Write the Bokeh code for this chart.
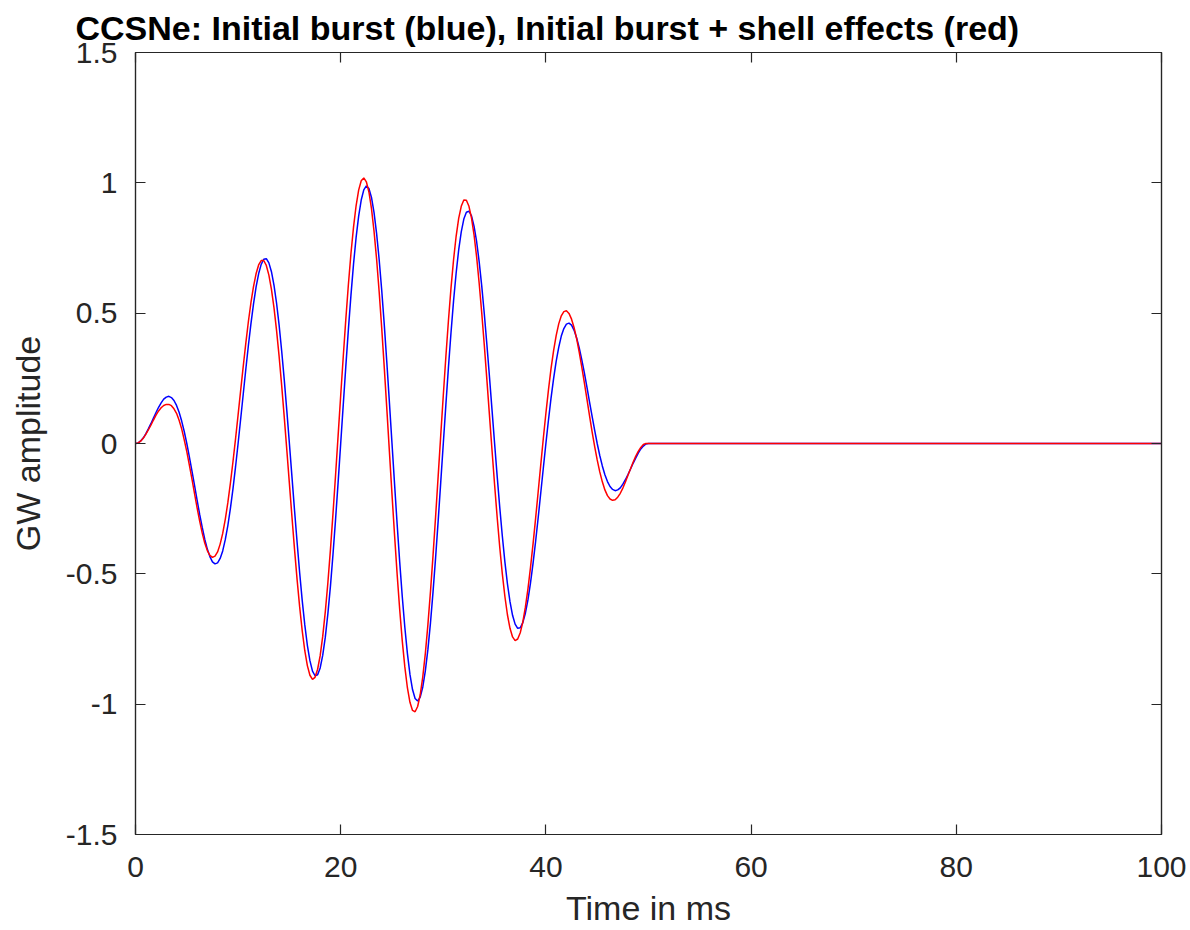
from bokeh.plotting import figure
from bokeh.models import LinearAxis, FixedTicker, Range1d, ColumnDataSource
from bokeh.embed import file_html
from bokeh.resources import INLINE

# ---- data ----
time_ms = [0, 0.25, 0.5, 0.75, 1, 1.25, 1.5, 1.75, 2, 2.25, 2.5, 2.75, 3, 3.25, 3.5, 3.75, 4, 4.25, 4.5, 4.75,
           5, 5.25, 5.5, 5.75, 6, 6.25, 6.5, 6.75, 7, 7.25, 7.5, 7.75, 8, 8.25, 8.5, 8.75, 9, 9.25, 9.5, 9.75,
           10, 10.25, 10.5, 10.75, 11, 11.25, 11.5, 11.75, 12, 12.25, 12.5, 12.75, 13, 13.25, 13.5, 13.75, 14, 14.25, 14.5, 14.75,
           15, 15.25, 15.5, 15.75, 16, 16.25, 16.5, 16.75, 17, 17.25, 17.5, 17.75, 18, 18.25, 18.5, 18.75, 19, 19.25, 19.5, 19.75,
           20, 20.25, 20.5, 20.75, 21, 21.25, 21.5, 21.75, 22, 22.25, 22.5, 22.75, 23, 23.25, 23.5, 23.75, 24, 24.25, 24.5, 24.75,
           25, 25.25, 25.5, 25.75, 26, 26.25, 26.5, 26.75, 27, 27.25, 27.5, 27.75, 28, 28.25, 28.5, 28.75, 29, 29.25, 29.5, 29.75,
           30, 30.25, 30.5, 30.75, 31, 31.25, 31.5, 31.75, 32, 32.25, 32.5, 32.75, 33, 33.25, 33.5, 33.75, 34, 34.25, 34.5, 34.75,
           35, 35.25, 35.5, 35.75, 36, 36.25, 36.5, 36.75, 37, 37.25, 37.5, 37.75, 38, 38.25, 38.5, 38.75, 39, 39.25, 39.5, 39.75,
           40, 40.25, 40.5, 40.75, 41, 41.25, 41.5, 41.75, 42, 42.25, 42.5, 42.75, 43, 43.25, 43.5, 43.75, 44, 44.25, 44.5, 44.75,
           45, 45.25, 45.5, 45.75, 46, 46.25, 46.5, 46.75, 47, 47.25, 47.5, 47.75, 48, 48.25, 48.5, 48.75, 49, 49.25, 49.5, 49.75,
           50, 100]

initial_burst = [
    0, 0.002, 0.010, 0.021, 0.037, 0.056, 0.076, 0.098, 0.119, 0.139, 0.156, 0.170, 0.178, 0.181, 0.176, 0.165, 0.146, 0.120, 0.086, 0.046,
    0, -0.051, -0.105, -0.160, -0.216, -0.271, -0.321, -0.367, -0.405, -0.434, -0.454, -0.462, -0.458, -0.441, -0.412, -0.369, -0.315, -0.249, -0.174, -0.090,
    0, 0.094, 0.189, 0.284, 0.375, 0.459, 0.535, 0.600, 0.651, 0.687, 0.707, 0.709, 0.693, 0.659, 0.607, 0.538, 0.453, 0.354, 0.244, 0.125,
    0, -0.128, -0.256, -0.379, -0.496, -0.603, -0.696, -0.774, -0.833, -0.873, -0.891, -0.887, -0.861, -0.812, -0.743, -0.653, -0.547, -0.425, -0.291, -0.148,
    0, 0.149, 0.297, 0.438, 0.569, 0.688, 0.790, 0.872, 0.934, 0.973, 0.988, 0.978, 0.944, 0.886, 0.805, 0.705, 0.587, 0.454, 0.309, 0.156,
    0, -0.156, -0.309, -0.454, -0.587, -0.705, -0.805, -0.886, -0.944, -0.978, -0.988, -0.973, -0.934, -0.872, -0.790, -0.688, -0.569, -0.438, -0.297, -0.149,
    0, 0.148, 0.291, 0.425, 0.547, 0.653, 0.743, 0.812, 0.861, 0.887, 0.891, 0.873, 0.833, 0.774, 0.696, 0.603, 0.496, 0.379, 0.256, 0.128,
    0, -0.125, -0.244, -0.354, -0.453, -0.538, -0.607, -0.659, -0.693, -0.709, -0.707, -0.687, -0.651, -0.600, -0.535, -0.459, -0.375, -0.284, -0.189, -0.094,
    0, 0.090, 0.174, 0.249, 0.315, 0.369, 0.412, 0.441, 0.458, 0.462, 0.454, 0.434, 0.405, 0.367, 0.321, 0.271, 0.216, 0.160, 0.105, 0.051,
    0, -0.046, -0.086, -0.120, -0.146, -0.165, -0.176, -0.181, -0.178, -0.170, -0.156, -0.139, -0.119, -0.098, -0.076, -0.056, -0.037, -0.021, -0.010, -0.002,
    0, 0]

burst_with_shell = [
    0, 0.002, 0.009, 0.020, 0.035, 0.052, 0.070, 0.090, 0.109, 0.125, 0.137, 0.146, 0.150, 0.150, 0.145, 0.133, 0.116, 0.089, 0.056, 0.014,
    -0.031, -0.083, -0.136, -0.191, -0.246, -0.297, -0.343, -0.382, -0.411, -0.429, -0.437, -0.432, -0.416, -0.386, -0.345, -0.291, -0.227, -0.152, -0.070, 0.018,
    0.110, 0.204, 0.296, 0.384, 0.467, 0.540, 0.602, 0.651, 0.685, 0.702, 0.702, 0.683, 0.646, 0.591, 0.520, 0.433, 0.333, 0.221, 0.100, -0.026,
    -0.154, -0.282, -0.406, -0.522, -0.627, -0.719, -0.795, -0.852, -0.889, -0.905, -0.897, -0.866, -0.814, -0.739, -0.645, -0.534, -0.407, -0.268, -0.121, 0.031,
    0.184, 0.334, 0.477, 0.610, 0.729, 0.830, 0.912, 0.972, 1.008, 1.019, 1.004, 0.965, 0.901, 0.814, 0.707, 0.581, 0.441, 0.289, 0.130, -0.033,
    -0.195, -0.352, -0.501, -0.637, -0.757, -0.857, -0.937, -0.993, -1.024, -1.029, -1.009, -0.964, -0.895, -0.805, -0.695, -0.568, -0.429, -0.280, -0.125, 0.031,
    0.185, 0.333, 0.471, 0.596, 0.705, 0.795, 0.864, 0.910, 0.934, 0.933, 0.910, 0.865, 0.799, 0.715, 0.613, 0.499, 0.375, 0.243, 0.108, -0.027,
    -0.158, -0.283, -0.397, -0.499, -0.586, -0.657, -0.709, -0.742, -0.756, -0.750, -0.726, -0.685, -0.628, -0.558, -0.475, -0.384, -0.286, -0.184, -0.081, 0.020,
    0.116, 0.206, 0.287, 0.356, 0.414, 0.459, 0.490, 0.506, 0.509, 0.499, 0.477, 0.444, 0.401, 0.350, 0.293, 0.233, 0.170, 0.107, 0.046, -0.011,
    -0.063, -0.109, -0.147, -0.178, -0.200, -0.213, -0.218, -0.216, -0.206, -0.191, -0.171, -0.148, -0.122, -0.097, -0.072, -0.049, -0.030, -0.015, -0.004, 0.000,
    0, 0]

x_ticks = [0, 20, 40, 60, 80, 100]
y_ticks = [-1.5, -1, -0.5, 0, 0.5, 1, 1.5]
y_tick_labels = ["-1.5", "-1", "-0.5", "0", "0.5", "1", "1.5"]

title_text = "CCSNe: Initial burst (blue), Initial burst + shell effects (red)"
x_label = "Time in ms"
y_label = "GW amplitude"

# ---- figure ----
FONT = "Liberation Sans"
AX = "#262626"

p = figure(width=1188, height=930,
           x_range=Range1d(0, 100), y_range=Range1d(-1.5, 1.5),
           output_backend="svg", toolbar_location=None,
           min_border_left=135, min_border_right=27,
           min_border_top=52, min_border_bottom=96,
           x_axis_label=x_label, y_axis_label=y_label)

p.xgrid.grid_line_color = None
p.ygrid.grid_line_color = None
p.outline_line_color = AX
p.outline_line_width = 1.2
p.background_fill_color = "white"
p.border_fill_color = "white"

p.title.text = title_text
p.title.text_font = FONT
p.title.text_font_size = "34px"
p.title.text_font_style = "bold"
p.title.text_color = "black"
p.title.align = "left"
p.title.offset = -60
p.title.standoff = 12

src = ColumnDataSource(dict(t=time_ms, blue=initial_burst, red=burst_with_shell))
p.line("t", "blue", source=src, line_color="#0000ff", line_width=1.5)
p.line("t", "red", source=src, line_color="#ff0000", line_width=1.5)

top_axis = LinearAxis()
right_axis = LinearAxis()
p.add_layout(top_axis, "above")
p.add_layout(right_axis, "right")

p.xaxis.ticker = FixedTicker(ticks=x_ticks)
p.yaxis.ticker = FixedTicker(ticks=y_ticks)
p.yaxis.major_label_overrides = {v: s for v, s in zip(y_ticks, y_tick_labels)}

for ax in p.axis:
    ax.axis_line_color = AX
    ax.axis_line_width = 1.2
    ax.major_tick_line_color = AX
    ax.major_tick_line_width = 1.2
    ax.major_tick_in = 10
    ax.major_tick_out = 0
    ax.minor_tick_line_color = None
    ax.major_label_text_font = FONT
    ax.major_label_text_font_size = "30px"
    ax.major_label_text_color = AX
    ax.axis_label_text_font = FONT
    ax.axis_label_text_font_size = "34px"
    ax.axis_label_text_font_style = "normal"
    ax.axis_label_text_color = AX

for ax in (top_axis, right_axis):
    ax.major_label_text_font_size = "0px"
    ax.major_label_text_alpha = 0
    ax.major_label_standoff = 0

p.below[0].major_label_standoff = 22
p.below[0].axis_label_standoff = 9
p.left[0].major_label_standoff = 18
p.left[0].axis_label_standoff = 16

open("out.html", "w").write(file_html(p, INLINE))
